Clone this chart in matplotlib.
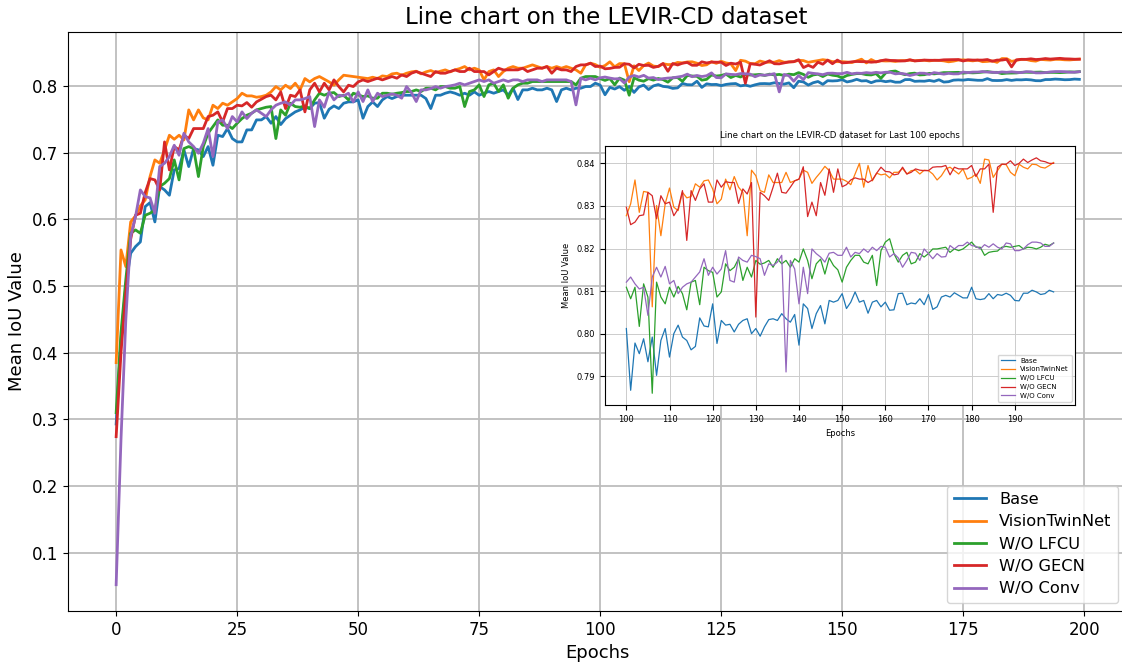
import matplotlib.pyplot as plt

# ---- data: Mean IoU per epoch (0..199) ----
labels = ["Base", "VisionTwinNet", "W/O LFCU", "W/O GECN", "W/O Conv"]
colors = ["tab:blue", "tab:orange", "tab:green", "tab:red", "tab:purple"]

base = [
    0.293, 0.420, 0.500, 0.549, 0.559, 0.566, 0.619, 0.625, 0.596, 0.649,
    0.644, 0.636, 0.674, 0.676, 0.704, 0.679, 0.706, 0.704, 0.694, 0.709,
    0.681, 0.726, 0.724, 0.736, 0.721, 0.716, 0.716, 0.734, 0.734, 0.749,
    0.749, 0.754, 0.744, 0.754, 0.742, 0.751, 0.756, 0.761, 0.764, 0.768,
    0.766, 0.774, 0.775, 0.7515, 0.765, 0.770, 0.766, 0.774, 0.776, 0.776,
    0.779, 0.7515, 0.769, 0.776, 0.769, 0.779, 0.784, 0.781, 0.784, 0.786,
    0.786, 0.786, 0.786, 0.786, 0.781, 0.766, 0.786, 0.786, 0.789, 0.791,
    0.789, 0.786, 0.789, 0.786, 0.791, 0.786, 0.789, 0.7915, 0.789, 0.7915,
    0.794, 0.786, 0.7965, 0.7795, 0.794, 0.794, 0.7965, 0.794, 0.794, 0.7965,
    0.794, 0.7765, 0.794, 0.7965, 0.794, 0.7965, 0.7965, 0.799, 0.799, 0.804,
    0.8012, 0.7867, 0.7978, 0.7953, 0.7988, 0.7934, 0.7992, 0.7902, 0.7984, 0.8012,
    0.7945, 0.8000, 0.8020, 0.7992, 0.7984, 0.7962, 0.7970, 0.8037, 0.8018, 0.8016,
    0.8070, 0.7977, 0.8031, 0.8020, 0.8022, 0.8004, 0.8022, 0.8031, 0.8035, 0.8000,
    0.8012, 0.7994, 0.8016, 0.8033, 0.8035, 0.8031, 0.8047, 0.8035, 0.8027, 0.8045,
    0.7973, 0.8070, 0.8059, 0.8012, 0.8047, 0.8066, 0.8023, 0.8078, 0.8074, 0.8078,
    0.8094, 0.8059, 0.8074, 0.8098, 0.8074, 0.8078, 0.8048, 0.8074, 0.8078, 0.8063,
    0.8074, 0.8055, 0.8056, 0.8094, 0.8095, 0.8068, 0.8072, 0.8070, 0.8082, 0.8068,
    0.8092, 0.8057, 0.8063, 0.8086, 0.8090, 0.8086, 0.8096, 0.8090, 0.8084, 0.8084,
    0.8109, 0.8082, 0.8080, 0.8082, 0.8094, 0.8082, 0.8092, 0.8090, 0.8095, 0.8090,
    0.8078, 0.8077, 0.8095, 0.8095, 0.8102, 0.8098, 0.8092, 0.8094, 0.8102, 0.8098,
]

vision = [
    0.385, 0.554, 0.529, 0.596, 0.605, 0.620, 0.629, 0.664, 0.689, 0.684,
    0.704, 0.726, 0.720, 0.726, 0.719, 0.764, 0.749, 0.764, 0.752, 0.749,
    0.771, 0.766, 0.774, 0.771, 0.776, 0.781, 0.789, 0.785, 0.785, 0.783,
    0.784, 0.786, 0.791, 0.799, 0.794, 0.801, 0.796, 0.804, 0.794, 0.811,
    0.806, 0.811, 0.814, 0.810, 0.806, 0.801, 0.809, 0.816, 0.815, 0.814,
    0.813, 0.812, 0.811, 0.813, 0.811, 0.815, 0.814, 0.818, 0.819, 0.816,
    0.819, 0.821, 0.822, 0.818, 0.821, 0.823, 0.820, 0.822, 0.824, 0.821,
    0.824, 0.826, 0.829, 0.824, 0.8265, 0.824, 0.809, 0.8215, 0.824, 0.814,
    0.8215, 0.8265, 0.829, 0.8265, 0.8265, 0.829, 0.8315, 0.829, 0.8265, 0.829,
    0.8265, 0.829, 0.8265, 0.829, 0.8265, 0.824, 0.819, 0.8315, 0.834, 0.832,
    0.8277, 0.8305, 0.8361, 0.8285, 0.8334, 0.8332, 0.8063, 0.8301, 0.8230, 0.8305,
    0.8342, 0.8297, 0.8289, 0.8332, 0.8319, 0.8322, 0.8352, 0.8344, 0.8359, 0.8361,
    0.8340, 0.8305, 0.8316, 0.8363, 0.8338, 0.8369, 0.8344, 0.8332, 0.8230, 0.8384,
    0.8371, 0.8336, 0.8332, 0.8373, 0.8355, 0.8355, 0.8355, 0.8379, 0.8355, 0.8359,
    0.8363, 0.8384, 0.8379, 0.8353, 0.8367, 0.8379, 0.8393, 0.8383, 0.8363, 0.8363,
    0.8363, 0.8358, 0.8350, 0.8375, 0.8400, 0.8344, 0.8395, 0.8359, 0.8377, 0.8373,
    0.8375, 0.8366, 0.8379, 0.8379, 0.8388, 0.8375, 0.8383, 0.8384, 0.8375, 0.8384,
    0.8383, 0.8375, 0.8361, 0.8371, 0.8387, 0.8391, 0.8383, 0.8375, 0.8387, 0.8363,
    0.8367, 0.8375, 0.8353, 0.8410, 0.8408, 0.8367, 0.8383, 0.8398, 0.8397, 0.8379,
    0.8371, 0.8398, 0.8391, 0.8387, 0.8398, 0.8397, 0.8391, 0.8389, 0.8395, 0.8402,
]

wo_lfcu = [
    0.310, 0.430, 0.510, 0.579, 0.584, 0.579, 0.606, 0.609, 0.614, 0.649,
    0.654, 0.661, 0.689, 0.659, 0.706, 0.709, 0.706, 0.664, 0.709, 0.729,
    0.739, 0.749, 0.741, 0.741, 0.736, 0.744, 0.751, 0.756, 0.759, 0.764,
    0.766, 0.768, 0.769, 0.721, 0.764, 0.756, 0.774, 0.769, 0.768, 0.770,
    0.766, 0.779, 0.789, 0.786, 0.789, 0.790, 0.784, 0.786, 0.779, 0.789,
    0.7865, 0.784, 0.785, 0.7815, 0.7815, 0.789, 0.789, 0.7875, 0.789, 0.790,
    0.7915, 0.7915, 0.794, 0.7915, 0.7965, 0.7965, 0.794, 0.799, 0.799, 0.7965,
    0.7965, 0.799, 0.769, 0.7915, 0.794, 0.8015, 0.784, 0.8015, 0.804, 0.7915,
    0.8015, 0.7815, 0.7965, 0.8015, 0.804, 0.804, 0.8065, 0.8065, 0.8065, 0.8065,
    0.8065, 0.8065, 0.8065, 0.8065, 0.8065, 0.8015, 0.8115, 0.814, 0.814, 0.814,
    0.8109, 0.8082, 0.8109, 0.8017, 0.8117, 0.8086, 0.7860, 0.8121, 0.8086, 0.8070,
    0.8109, 0.8086, 0.8111, 0.8094, 0.8056, 0.8121, 0.8125, 0.8068, 0.8156, 0.8148,
    0.8144, 0.8086, 0.8098, 0.8164, 0.8148, 0.8156, 0.8176, 0.8125, 0.8156, 0.8133,
    0.8172, 0.8163, 0.8166, 0.8172, 0.8156, 0.8176, 0.8164, 0.8172, 0.8156, 0.8176,
    0.8168, 0.8199, 0.8172, 0.8129, 0.8164, 0.8175, 0.8140, 0.8178, 0.8160, 0.8150,
    0.8121, 0.8156, 0.8172, 0.8184, 0.8184, 0.8168, 0.8164, 0.8184, 0.8113, 0.8195,
    0.8215, 0.8223, 0.8188, 0.8168, 0.8184, 0.8191, 0.8164, 0.8168, 0.8188, 0.8180,
    0.8188, 0.8199, 0.8199, 0.8201, 0.8203, 0.8191, 0.8199, 0.8195, 0.8199, 0.8207,
    0.8215, 0.8203, 0.8203, 0.8184, 0.8191, 0.8193, 0.8194, 0.8203, 0.8205, 0.8203,
    0.8205, 0.8207, 0.8199, 0.8203, 0.8202, 0.8199, 0.8203, 0.8210, 0.8207, 0.8213,
]

wo_gecn = [
    0.274, 0.400, 0.490, 0.570, 0.606, 0.609, 0.640, 0.661, 0.659, 0.644,
    0.716, 0.674, 0.709, 0.704, 0.726, 0.721, 0.736, 0.736, 0.736, 0.754,
    0.756, 0.761, 0.746, 0.766, 0.766, 0.771, 0.770, 0.775, 0.768, 0.776,
    0.780, 0.784, 0.786, 0.779, 0.791, 0.766, 0.786, 0.784, 0.794, 0.761,
    0.794, 0.804, 0.791, 0.804, 0.794, 0.809, 0.799, 0.791, 0.801, 0.799,
    0.806, 0.809, 0.8065, 0.809, 0.8115, 0.809, 0.8115, 0.814, 0.8115, 0.8165,
    0.814, 0.819, 0.8215, 0.819, 0.8165, 0.814, 0.8215, 0.819, 0.819, 0.8215,
    0.824, 0.8215, 0.8215, 0.8265, 0.8215, 0.8215, 0.8215, 0.8165, 0.8215, 0.8265,
    0.824, 0.824, 0.824, 0.824, 0.8265, 0.8215, 0.824, 0.8265, 0.8265, 0.829,
    0.819, 0.8265, 0.824, 0.824, 0.8215, 0.829, 0.8315, 0.8315, 0.834, 0.829,
    0.8297, 0.8256, 0.8262, 0.8277, 0.8279, 0.8332, 0.8324, 0.8270, 0.8324, 0.8305,
    0.8309, 0.8277, 0.8293, 0.8336, 0.8219, 0.8336, 0.8313, 0.8340, 0.8352, 0.8309,
    0.8309, 0.8361, 0.8344, 0.8357, 0.8355, 0.8355, 0.8306, 0.8340, 0.8328, 0.8355,
    0.8039, 0.8332, 0.8324, 0.8313, 0.8344, 0.8377, 0.8332, 0.8330, 0.8344, 0.8359,
    0.8363, 0.8392, 0.8275, 0.8309, 0.8277, 0.8355, 0.8325, 0.8387, 0.8332, 0.8387,
    0.8345, 0.8350, 0.8361, 0.8366, 0.8363, 0.8363, 0.8355, 0.8361, 0.8377, 0.8391,
    0.8381, 0.8380, 0.8373, 0.8375, 0.8391, 0.8375, 0.8379, 0.8387, 0.8384, 0.8383,
    0.8383, 0.8391, 0.8392, 0.8392, 0.8395, 0.8373, 0.8391, 0.8387, 0.8387, 0.8387,
    0.8395, 0.8369, 0.8387, 0.8387, 0.8398, 0.8285, 0.8391, 0.8398, 0.8398, 0.8406,
    0.8395, 0.8400, 0.8410, 0.8402, 0.8408, 0.8413, 0.8406, 0.8404, 0.8400, 0.8400,
]

wo_conv = [
    0.052, 0.270, 0.450, 0.574, 0.604, 0.644, 0.634, 0.632, 0.609, 0.679,
    0.684, 0.694, 0.711, 0.696, 0.729, 0.716, 0.709, 0.699, 0.714, 0.736,
    0.694, 0.746, 0.749, 0.736, 0.754, 0.746, 0.761, 0.751, 0.759, 0.764,
    0.759, 0.754, 0.764, 0.771, 0.774, 0.776, 0.771, 0.779, 0.779, 0.781,
    0.784, 0.739, 0.779, 0.768, 0.791, 0.779, 0.786, 0.785, 0.789, 0.776,
    0.791, 0.7765, 0.794, 0.7765, 0.789, 0.784, 0.786, 0.788, 0.786, 0.7815,
    0.799, 0.790, 0.7765, 0.794, 0.794, 0.796, 0.799, 0.7965, 0.799, 0.800,
    0.8015, 0.804, 0.8015, 0.804, 0.8065, 0.809, 0.8065, 0.809, 0.804, 0.8065,
    0.809, 0.8065, 0.809, 0.809, 0.8065, 0.809, 0.809, 0.809, 0.8065, 0.809,
    0.809, 0.809, 0.809, 0.809, 0.8065, 0.7715, 0.8115, 0.809, 0.8115, 0.809,
    0.8121, 0.8133, 0.8117, 0.8105, 0.8109, 0.8043, 0.8133, 0.8156, 0.8133, 0.8158,
    0.8117, 0.8125, 0.8094, 0.8109, 0.8117, 0.8121, 0.8133, 0.8145, 0.8176, 0.8137,
    0.8156, 0.8140, 0.8152, 0.8195, 0.8125, 0.8121, 0.8180, 0.8172, 0.8168, 0.8184,
    0.8181, 0.8176, 0.8137, 0.8164, 0.8160, 0.8168, 0.8184, 0.7910, 0.8172, 0.8152,
    0.8070, 0.8156, 0.8094, 0.8199, 0.8188, 0.8180, 0.8168, 0.8189, 0.8191, 0.8184,
    0.8184, 0.8203, 0.8180, 0.8191, 0.8188, 0.8199, 0.8191, 0.8203, 0.8195, 0.8205,
    0.8203, 0.8180, 0.8188, 0.8178, 0.8156, 0.8172, 0.8191, 0.8189, 0.8172, 0.8199,
    0.8188, 0.8176, 0.8188, 0.8180, 0.8181, 0.8207, 0.8199, 0.8207, 0.8207, 0.8215,
    0.8207, 0.8205, 0.8199, 0.8209, 0.8203, 0.8211, 0.8203, 0.8199, 0.8213, 0.8211,
    0.8195, 0.8195, 0.8199, 0.8209, 0.8215, 0.8215, 0.8213, 0.8205, 0.8205, 0.8213,
]

series = [base, vision, wo_lfcu, wo_gecn, wo_conv]
epochs = list(range(len(base)))
last = 100  # inset shows the last 100 epochs

fig = plt.figure(figsize=(11.22, 6.63), dpi=100)

# main axes (right spine falls just outside the saved picture, as in the reference)
ax = fig.add_axes([0.0606, 0.0784, 0.9443, 0.8733])
for vals, lab, col in zip(series, labels, colors):
    ax.plot(epochs, vals, color=col, lw=2.0, label=lab)
ax.set_title("Line chart on the LEVIR-CD dataset", fontsize=16.5, pad=6, x=0.508)
ax.set_xlabel("Epochs", fontsize=13)
ax.set_ylabel("Mean IoU Value", fontsize=13)
ax.tick_params(labelsize=12)
ax.grid(True, color="#bdbdbd", lw=1.3)
ax.legend(loc="lower right", bbox_to_anchor=(0.991, 0.014), borderaxespad=0,
          fontsize=11.7, handlelength=2.0, labelspacing=0.45)

# inset: last 100 epochs
ins = fig.add_axes([0.5392, 0.3891, 0.4189, 0.3906])
for vals, lab, col in zip(series, labels, colors):
    ins.plot(epochs[last:], vals[last:], color=col, lw=0.9, label=lab)
ins.set_title("Line chart on the LEVIR-CD dataset for Last 100 epochs", fontsize=6.2)
ins.set_xlabel("Epochs", fontsize=6)
ins.set_ylabel("Mean IoU Value", fontsize=6)
ins.set_xticks(range(100, 200, 10))
ins.tick_params(labelsize=6)
ins.grid(True, color="#cccccc", lw=0.7)
ins.legend(loc="lower right", fontsize=5, labelspacing=0.4)

fig.savefig("out.png", dpi=100)
